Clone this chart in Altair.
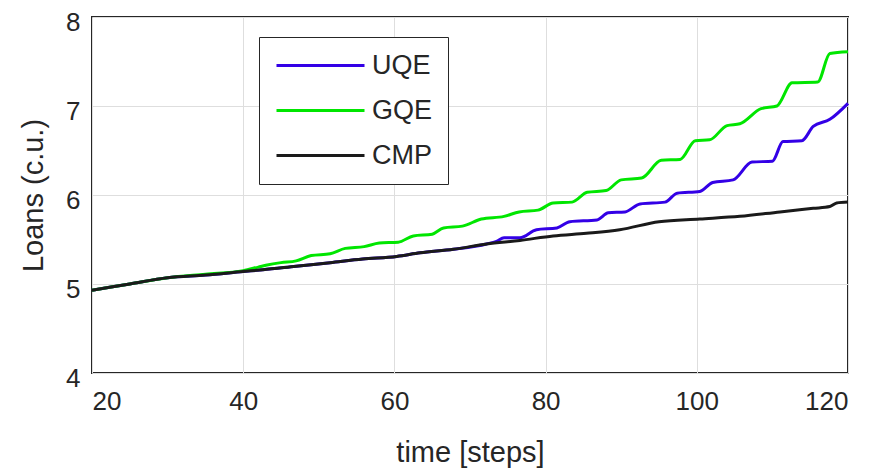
import altair as alt
import pandas as pd

# ---- data ----
cmp_steps = [20, 25, 30, 35, 40, 42.6, 47, 51.5, 55.8, 60.3, 63.4, 67.8, 72.2, 76.6,
             81, 85.4, 89.8, 95, 100.4, 105.7, 111, 115.4, 117.6, 118.5, 120]
cmp_vals = [4.93, 5.00, 5.07, 5.10, 5.14, 5.16, 5.20, 5.24, 5.28, 5.31, 5.35, 5.39, 5.45, 5.49,
            5.54, 5.57, 5.61, 5.70, 5.73, 5.76, 5.81, 5.85, 5.87, 5.91, 5.92]

uqe_steps = [20, 25, 30, 35, 40, 42.6, 47, 51.5, 55.8, 60.3, 63.4, 67.8, 72.2, 73.5, 74.5,
             76.6, 78.8, 81.5, 83.2, 86.8, 88.3, 90.5, 92.5, 95.8, 97.4, 100.4, 102.1, 104.8,
             107.3, 110, 111.4, 113.9, 115.4, 117.6, 120]
uqe_vals = [4.93, 5.00, 5.07, 5.10, 5.14, 5.16, 5.20, 5.24, 5.28, 5.31, 5.35, 5.39, 5.45, 5.48, 5.52,
            5.52, 5.61, 5.63, 5.70, 5.72, 5.80, 5.81, 5.90, 5.92, 6.02, 6.04, 6.14, 6.17,
            6.37, 6.38, 6.60, 6.61, 6.77, 6.85, 7.03]

gqe_steps = [20, 25, 30, 35, 40, 42, 43, 45, 47, 49, 51.5, 53.5, 56, 58, 60.5, 62.5, 65, 66.5,
             69, 71.5, 74.5, 76.5, 79, 81, 83.5, 85.5, 88, 90, 92.7, 95.3, 97.8, 99.8, 101.7,
             104, 105.7, 108.5, 110.6, 112.6, 116, 117.6, 120]
gqe_vals = [4.93, 5.00, 5.07, 5.11, 5.15, 5.19, 5.21, 5.24, 5.26, 5.32, 5.34, 5.40, 5.42, 5.46,
            5.47, 5.54, 5.56, 5.63, 5.65, 5.73, 5.76, 5.81, 5.83, 5.91, 5.92, 6.03, 6.05, 6.17,
            6.19, 6.39, 6.40, 6.61, 6.62, 6.78, 6.80, 6.97, 7.00, 7.26, 7.27, 7.59, 7.61]

series_names = ["UQE", "GQE", "CMP"]
series_colors = ["#3300e6", "#00e600", "#1a1a1a"]
x_ticks = [20, 40, 60, 80, 100, 120]
y_ticks = [4, 5, 6, 7, 8]

frames = []
for name, st, vals in [("UQE", uqe_steps, uqe_vals), ("GQE", gqe_steps, gqe_vals),
                       ("CMP", cmp_steps, cmp_vals)]:
    frames.append(pd.DataFrame({"step": st, "loans": vals, "series": name}))
df = pd.concat(frames, ignore_index=True)

FONT = "Liberation Sans"
TXT = "#262626"

color = alt.Color(
    "series:N",
    scale=alt.Scale(domain=series_names, range=series_colors),
    legend=alt.Legend(
        title=None, orient="none", legendX=167, legendY=20,
        symbolType="M-4,0H4", symbolSize=484, symbolStrokeWidth=3,
        symbolOffset=33,
        labelFontSize=27, labelFont=FONT, labelColor=TXT, labelOffset=38,
        padding=15, rowPadding=17, strokeColor=TXT, fillColor="white",
    ),
)

x = alt.X("step:Q", title="time [steps]",
          scale=alt.Scale(domain=[20, 120], nice=False),
          axis=alt.Axis(values=x_ticks, labelPadding=15, titlePadding=24))
y = alt.Y("loans:Q", title="Loans (c.u.)",
          scale=alt.Scale(domain=[4, 8], nice=False),
          axis=alt.Axis(values=y_ticks, labelPadding=12, labelOffset=5, titlePadding=17))

layers = []
for name in series_names:
    layers.append(
        alt.Chart(df).transform_filter(alt.datum.series == name)
        .mark_line(strokeWidth=3, interpolate="monotone")
        .encode(x=x, y=y, color=color)
    )

chart = alt.layer(*layers).properties(
    width=756, height=356,
    autosize=alt.AutoSizeParams(type="none"),
    padding={"left": 92, "top": 17, "right": 28, "bottom": 97},
    background="white",
).configure_view(
    stroke=TXT, strokeWidth=2
).configure_axis(
    domain=False, ticks=False, grid=True, gridColor="#dedede", gridWidth=1,
    labelFont=FONT, labelFontSize=26, labelColor=TXT,
    titleFont=FONT, titleFontSize=29, titleFontWeight="normal", titleColor=TXT,
)

chart.save("out.html", embed_options={"renderer": "svg", "actions": False})
